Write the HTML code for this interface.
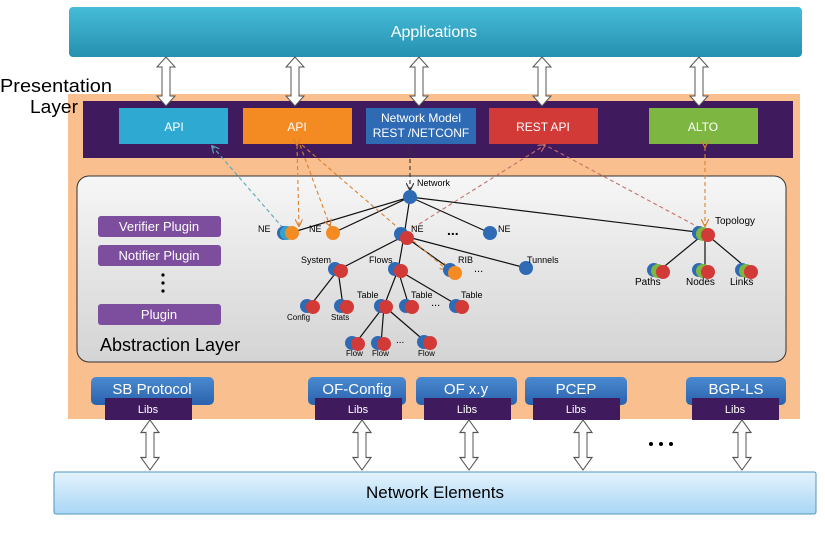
<!DOCTYPE html>
<html><head><meta charset="utf-8"><style>
body{margin:0;background:#fff;width:825px;height:544px;overflow:hidden}
svg text{font-family:"Liberation Sans",sans-serif}
</style></head><body>
<svg width="825" height="544" viewBox="0 0 825 544" xmlns="http://www.w3.org/2000/svg">
<defs>
<linearGradient id="app" x1="0" y1="0" x2="0" y2="1"><stop offset="0" stop-color="#45bcd8"/><stop offset="1" stop-color="#2690b0"/></linearGradient>
<linearGradient id="abs" x1="0" y1="0" x2="0" y2="1"><stop offset="0" stop-color="#f6f6f6"/><stop offset="1" stop-color="#d4d4d4"/></linearGradient>
<linearGradient id="ne" x1="0" y1="0" x2="0" y2="1"><stop offset="0" stop-color="#e4f3fd"/><stop offset="1" stop-color="#a9d6f5"/></linearGradient>
<linearGradient id="sb" x1="0" y1="0" x2="0" y2="1"><stop offset="0" stop-color="#4a8ad0"/><stop offset="1" stop-color="#2a62ad"/></linearGradient>
<g id="dar"><path d="M0,0 L-9,10 L-4,10 L-4,30 L-9,30 L0,40 L9,30 L4,30 L4,10 L9,10 Z" fill="#fff" stroke="#555" stroke-width="1"/></g>
<g id="dart"><path d="M0,0 L-9,10 L-4,10 L-4,39 L-9,39 L0,49 L9,39 L4,39 L4,10 L9,10 Z" fill="#fff" stroke="#555" stroke-width="1"/></g>
<marker id="ah" viewBox="0 0 10 10" refX="9" refY="5" markerWidth="7" markerHeight="7" orient="auto"><path d="M0,0 L10,5 L0,10" fill="none" stroke="context-stroke" stroke-width="1.5"/></marker>
</defs>

<rect x="69" y="7" width="733" height="50" rx="4" fill="url(#app)"/>
<text x="434" y="37" font-size="16" fill="#fff" text-anchor="middle">Applications</text>

<rect x="68" y="94" width="732" height="325" fill="#f9bf8e"/>
<rect x="83" y="101" width="710" height="57" fill="#3f1b5d"/>

<text x="0" y="92" font-size="18" fill="#000" textLength="112" lengthAdjust="spacingAndGlyphs">Presentation</text>
<text x="30" y="113" font-size="18" fill="#000" textLength="48" lengthAdjust="spacingAndGlyphs">Layer</text>

<rect x="119" y="108" width="109" height="36" fill="#2ea9d2"/>
<text x="174" y="131" font-size="12" fill="#fff" text-anchor="middle">API</text>
<rect x="243" y="108" width="109" height="36" fill="#f48a22"/>
<text x="297" y="131" font-size="12" fill="#fff" text-anchor="middle">API</text>
<rect x="366" y="108" width="110" height="36" fill="#2f6bb5"/>
<text x="421" y="122" font-size="12" fill="#fff" text-anchor="middle">Network Model</text>
<text x="421" y="137" font-size="12" fill="#fff" text-anchor="middle">REST /NETCONF</text>
<rect x="489" y="108" width="109" height="36" fill="#d23a38"/>
<text x="543" y="131" font-size="12" fill="#fff" text-anchor="middle">REST API</text>
<rect x="649" y="108" width="109" height="36" fill="#7db742"/>
<text x="703" y="131" font-size="12" fill="#fff" text-anchor="middle">ALTO</text>

<use href="#dart" x="166" y="57"/>
<use href="#dart" x="295" y="57"/>
<use href="#dart" x="419" y="57"/>
<use href="#dart" x="542" y="57"/>
<use href="#dart" x="699" y="57"/>

<rect x="77" y="176" width="709" height="186" rx="12" fill="url(#abs)" stroke="#333" stroke-width="1"/>
<g font-size="13" fill="#fff" text-anchor="middle">
<rect x="98" y="216" width="123" height="21" rx="3" fill="#7d4e9e"/><text x="159" y="231">Verifier Plugin</text>
<rect x="98" y="245" width="123" height="21" rx="3" fill="#7d4e9e"/><text x="159" y="260">Notifier Plugin</text>
<rect x="98" y="304" width="123" height="21" rx="3" fill="#7d4e9e"/><text x="159" y="319">Plugin</text>
</g>
<g fill="#000"><circle cx="163" cy="275" r="1.6"/><circle cx="163" cy="283" r="1.6"/><circle cx="163" cy="291" r="1.6"/></g>
<text x="100" y="351" font-size="18" fill="#000">Abstraction Layer</text>

<g stroke="#111" stroke-width="1.2" fill="none">
<path d="M410,197 L290,233 M410,197 L333,233 M410,197 L404,236 M410,197 L490,233 M410,197 L705,233"/>
<path d="M404,236 L338,270 M404,236 L398,270 M404,236 L453,271 M404,236 L526,268"/>
<path d="M338,270 L310,306 M338,270 L343,306 M398,270 L384,306 M398,270 L409,306 M398,270 L459,306"/>
<path d="M384,306 L355,344 M384,306 L381,344 M384,306 L427,343"/>
<path d="M705,233 L660,270 M705,233 L705,270 M705,233 L749,270"/>
</g>
<g fill="none" stroke-width="1.1" stroke-dasharray="4,3">
<path d="M410,145 L410,190" stroke="#333" marker-end="url(#ah)"/>
<path d="M283,228 L212,146" stroke="#5aa6b8" marker-start="url(#ah)" marker-end="url(#ah)"/>
<path d="M297,145 L299,226" stroke="#d9822f" marker-start="url(#ah)" marker-end="url(#ah)"/>
<path d="M300,145 L330,226" stroke="#d9822f" marker-end="url(#ah)"/>
<path d="M302,145 L447,270" stroke="#d9822f" marker-end="url(#ah)"/>
<path d="M413,228 L545,145" stroke="#c76f6a" marker-end="url(#ah)"/>
<path d="M700,228 L545,145" stroke="#c76f6a"/>
<path d="M705,147 L705,226" stroke="#d9822f" marker-start="url(#ah)" marker-end="url(#ah)"/>
</g>

<g>
<circle cx="410" cy="197" r="7" fill="#2f6bb5"/>
<circle cx="284" cy="233" r="7" fill="#2f6bb5"/><circle cx="287" cy="233" r="7" fill="#34a3c9"/><circle cx="292" cy="233" r="7" fill="#f48a22"/>
<circle cx="333" cy="233" r="7" fill="#f48a22"/>
<circle cx="401" cy="234" r="7" fill="#2f6bb5"/><circle cx="407" cy="238" r="7" fill="#d23a38"/>
<circle cx="490" cy="233" r="7" fill="#2f6bb5"/>
<circle cx="526" cy="268" r="7" fill="#2f6bb5"/>
<circle cx="335" cy="269" r="7" fill="#2f6bb5"/><circle cx="341" cy="271" r="7" fill="#d23a38"/>
<circle cx="395" cy="269" r="7" fill="#2f6bb5"/><circle cx="401" cy="271" r="7" fill="#d23a38"/>
<circle cx="450" cy="270" r="7" fill="#2f6bb5"/><circle cx="455" cy="273" r="7" fill="#f48a22"/>
<circle cx="307" cy="306" r="7" fill="#2f6bb5"/><circle cx="313" cy="307" r="7" fill="#d23a38"/>
<circle cx="341" cy="306" r="7" fill="#2f6bb5"/><circle cx="347" cy="307" r="7" fill="#d23a38"/>
<circle cx="381" cy="306" r="7" fill="#2f6bb5"/><circle cx="386" cy="307" r="7" fill="#d23a38"/>
<circle cx="406" cy="306" r="7" fill="#2f6bb5"/><circle cx="412" cy="307" r="7" fill="#d23a38"/>
<circle cx="456" cy="306" r="7" fill="#2f6bb5"/><circle cx="462" cy="307" r="7" fill="#d23a38"/>
<circle cx="352" cy="343" r="7" fill="#2f6bb5"/><circle cx="358" cy="344" r="7" fill="#d23a38"/>
<circle cx="378" cy="343" r="7" fill="#2f6bb5"/><circle cx="384" cy="344" r="7" fill="#d23a38"/>
<circle cx="424" cy="342" r="7" fill="#2f6bb5"/><circle cx="430" cy="343" r="7" fill="#d23a38"/>
<circle cx="699" cy="233" r="7" fill="#2f6bb5"/><circle cx="703" cy="234" r="7" fill="#7db742"/><circle cx="708" cy="235" r="7" fill="#d23a38"/>
<circle cx="654" cy="270" r="7" fill="#2f6bb5"/><circle cx="658" cy="271" r="7" fill="#7db742"/><circle cx="663" cy="272" r="7" fill="#d23a38"/>
<circle cx="699" cy="270" r="7" fill="#2f6bb5"/><circle cx="703" cy="271" r="7" fill="#7db742"/><circle cx="708" cy="272" r="7" fill="#d23a38"/>
<circle cx="742" cy="270" r="7" fill="#2f6bb5"/><circle cx="746" cy="271" r="7" fill="#7db742"/><circle cx="751" cy="272" r="7" fill="#d23a38"/>
</g>
<g font-size="9" fill="#000">
<text x="417" y="186">Network</text>
<text x="258" y="232">NE</text><text x="309" y="232">NE</text><text x="411" y="232">NE</text><text x="498" y="232">NE</text>
<text x="447" y="235" font-size="14" font-weight="bold">...</text>
<text x="301" y="263">System</text><text x="369" y="263">Flows</text><text x="458" y="263">RIB</text><text x="527" y="263">Tunnels</text>
<text x="474" y="272" font-size="11">...</text>
<text x="287" y="320" font-size="8">Config</text><text x="331" y="320" font-size="8">Stats</text>
<text x="357" y="298">Table</text><text x="411" y="298">Table</text><text x="461" y="298">Table</text>
<text x="431" y="306" font-size="11">...</text>
<text x="346" y="356" font-size="8">Flow</text><text x="372" y="356" font-size="8">Flow</text><text x="418" y="356" font-size="8">Flow</text>
<text x="396" y="343" font-size="10">...</text>
<text x="715" y="224" font-size="10">Topology</text>
<text x="635" y="285" font-size="10">Paths</text><text x="686" y="285" font-size="10">Nodes</text><text x="730" y="285" font-size="10">Links</text>
</g>

<g font-size="15" fill="#fff" text-anchor="middle">
<rect x="91" y="377" width="123" height="28" rx="5" fill="url(#sb)"/><text x="152" y="394">SB Protocol</text>
<rect x="308" y="377" width="98" height="28" rx="5" fill="url(#sb)"/><text x="357" y="394">OF-Config</text>
<rect x="416" y="377" width="101" height="28" rx="5" fill="url(#sb)"/><text x="466" y="394">OF x.y</text>
<rect x="525" y="377" width="102" height="28" rx="5" fill="url(#sb)"/><text x="576" y="394">PCEP</text>
<rect x="686" y="377" width="100" height="28" rx="5" fill="url(#sb)"/><text x="736" y="394">BGP-LS</text>
</g>
<g font-size="11" fill="#fff" text-anchor="middle">
<rect x="105" y="398" width="87" height="22" fill="#3f1b5d"/><text x="148" y="413">Libs</text>
<rect x="315" y="398" width="87" height="22" fill="#3f1b5d"/><text x="358" y="413">Libs</text>
<rect x="424" y="398" width="87" height="22" fill="#3f1b5d"/><text x="467" y="413">Libs</text>
<rect x="533" y="398" width="87" height="22" fill="#3f1b5d"/><text x="576" y="413">Libs</text>
<rect x="692" y="398" width="87" height="22" fill="#3f1b5d"/><text x="735" y="413">Libs</text>
</g>

<g transform="translate(0,420) scale(1,1.25)">
<use href="#dar" x="150" y="0"/><use href="#dar" x="362" y="0"/><use href="#dar" x="469" y="0"/><use href="#dar" x="583" y="0"/><use href="#dar" x="742" y="0"/>
</g>
<g fill="#000"><circle cx="651" cy="444" r="2"/><circle cx="661" cy="444" r="2"/><circle cx="671" cy="444" r="2"/></g>

<rect x="54" y="472" width="762" height="42" rx="2" fill="url(#ne)" stroke="#4f95bf" stroke-width="1"/>
<text x="435" y="498" font-size="17" fill="#000" text-anchor="middle">Network Elements</text>
</svg>
</body></html>
